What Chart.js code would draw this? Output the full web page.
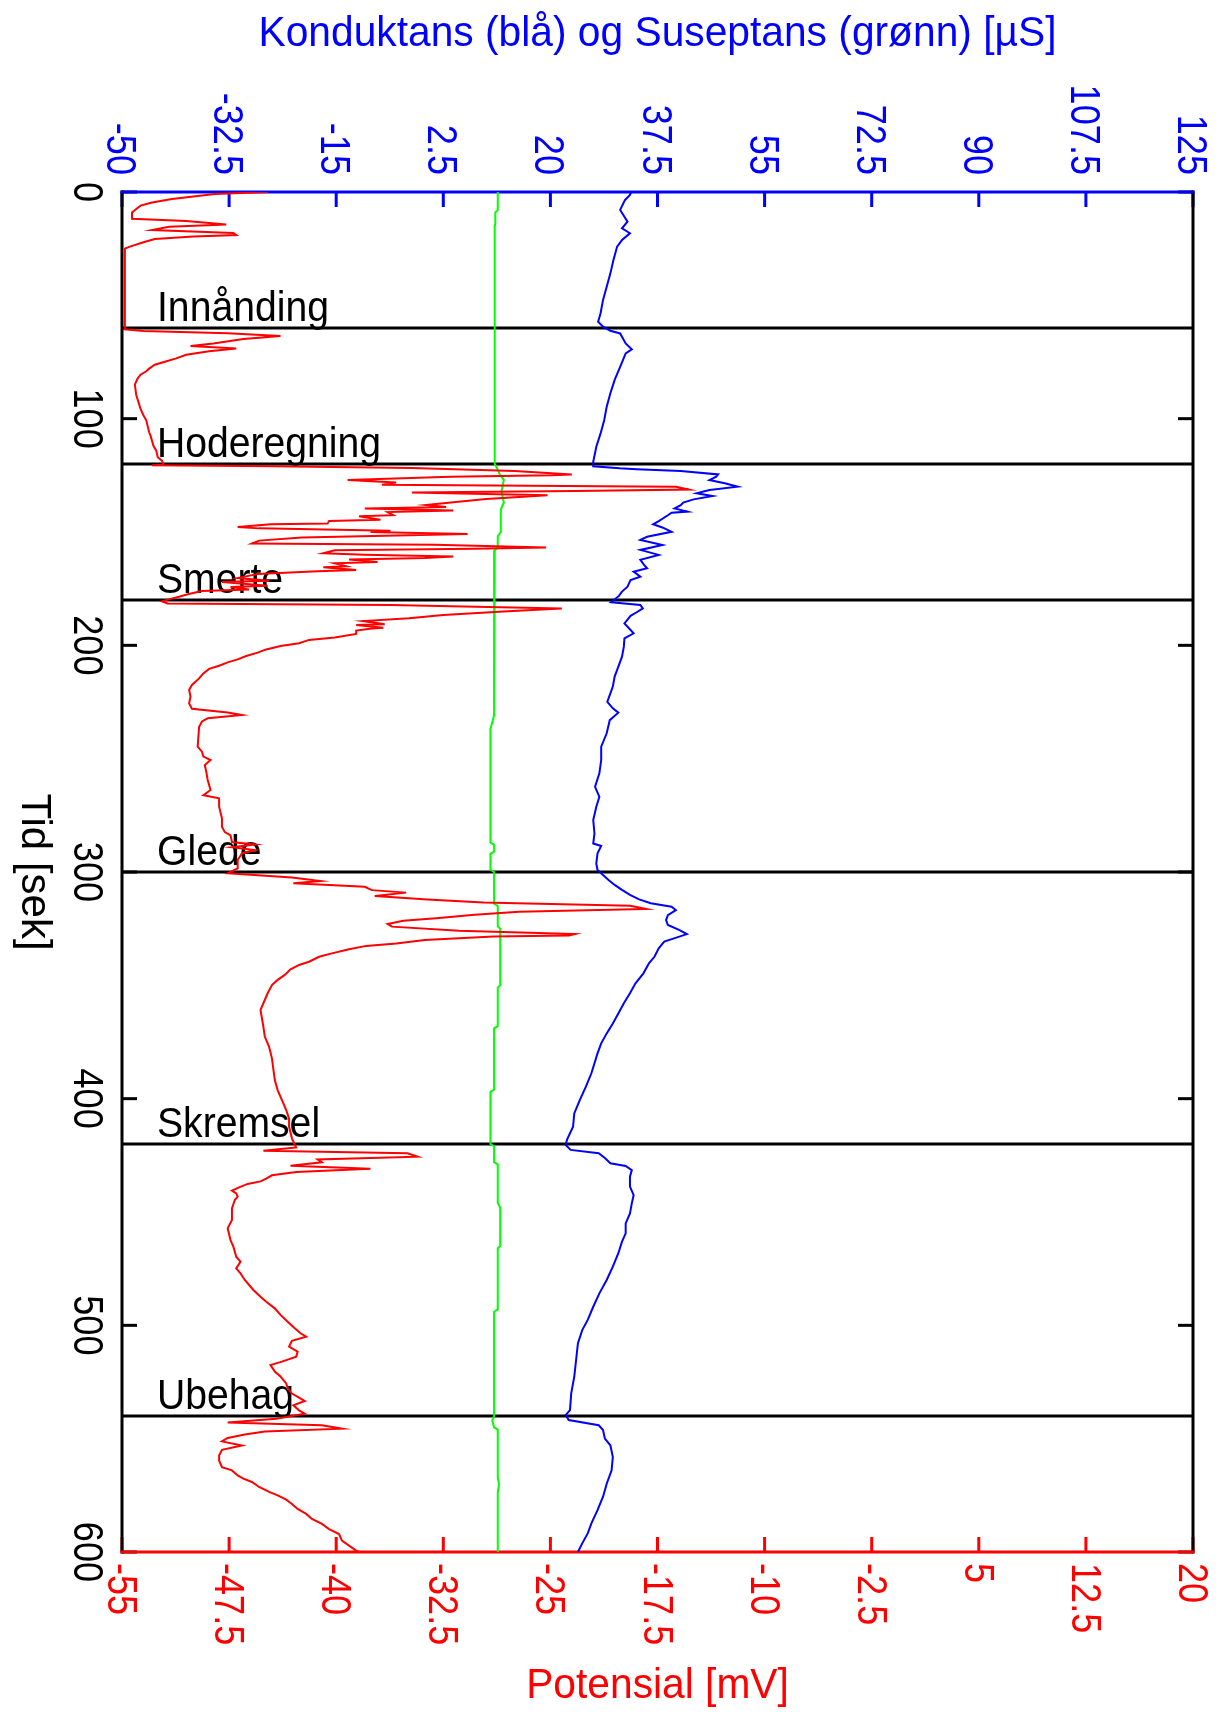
<!DOCTYPE html>
<html>
<head>
<meta charset="utf-8">
<title>Konduktans og potensial</title>
<script src="https://cdn.jsdelivr.net/npm/chart.js@4.4.1/dist/chart.umd.min.js"></script>
<style>
  html, body { margin: 0; padding: 0; background: #fff; }
  canvas { display: block; }
</style>
</head>
<body>
<canvas id="chart" width="1221" height="1712"></canvas>
<script>
// Skin potential (red, mV) over time [s]
const potTime = [0, 0.9, 3.1, 4.6, 6.0, 7.5, 9.0, 11.8, 12.8, 14.3, 15.3, 16.8, 18.1, 19.0, 19.6, 20.7, 22.2, 24.0, 25.0, 59.0,
  60.6, 61.3, 62.3, 63.5, 64.9, 66.8, 67.9, 69.0, 70.3, 71.8, 73.4, 74.9, 76.2, 77.9, 79.1, 80.6, 82.2, 85.0, 89.7, 91.6,
  95.7, 98.5, 100.7, 106.0, 107.5, 112.0, 114.1, 117.0, 118.5, 120.3, 120.6, 121.0, 121.8, 123.1, 124.6, 125.0, 125.6, 127.1, 128.2, 129.1,
  130.0, 131.3, 131.9, 132.6, 133.8, 135.4, 136.9, 138.1, 139.0, 139.6, 140.5, 141.2, 142.6, 143.1, 144.6, 145.1, 146.3, 146.6, 147.8, 148.4,
  149.4, 150.0, 150.9, 152.4, 153.8, 155.1, 155.6, 156.8, 157.4, 158.1, 159.4, 160.0, 160.8, 161.5, 162.1, 163.2, 163.8, 165.1, 165.6, 166.8,
  167.3, 168.5, 169.8, 170.3, 171.5, 172.1, 173.7, 174.3, 175.4, 176.0, 177.5, 178.6, 179.5, 180.6, 181.5, 182.2, 183.7, 185.1, 186.6, 188.1,
  189.3, 190.7, 191.0, 192.2, 192.6, 193.5, 195.0, 196.5, 197.6, 199.1, 200.3, 201.8, 203.2, 204.7, 206.2, 207.5, 209.0, 210.4, 212.4, 214.6,
  217.5, 219.7, 222.6, 225.6, 228.0, 229.6, 230.7, 232.2, 233.6, 235.9, 244.7, 246.9, 249.1, 250.6, 252.8, 255.7, 259.4, 263.8, 266.1, 267.5,
  271.2, 276.3, 280.0, 282.4, 283.8, 286.8, 287.9, 289.1, 290.3, 291.8, 294.7, 298.4, 300.6, 302.4, 304.0, 305.0, 306.5, 308.0, 309.1, 310.6,
  312.1, 313.5, 314.9, 316.3, 317.5, 318.9, 320.4, 321.5, 322.9, 324.1, 325.9, 327.4, 328.0, 328.5, 330.0, 331.5, 332.6, 334.1, 335.9, 337.4,
  339.6, 341.0, 342.9, 345.4, 347.6, 349.9, 353.5, 357.9, 360.9, 368.2, 372.6, 377.1, 382.2, 391.8, 396.2, 400.6, 405.0, 408.8, 412.4, 417.5,
  420.4, 421.5, 423.0, 424.1, 425.6, 426.8, 428.1, 429.6, 430.9, 432.4, 433.8, 435.3, 436.5, 437.6, 439.1, 440.6, 441.8, 443.2, 444.7, 448.4,
  453.5, 457.2, 462.4, 465.3, 469.7, 471.9, 474.9, 477.1, 480.0, 484.4, 487.4, 489.6, 492.5, 495.4, 498.4, 501.3, 503.5, 505.0, 506.8, 509.4,
  511.6, 513.8, 516.0, 517.5, 520.4, 522.6, 525.6, 527.8, 530.1, 531.9, 533.4, 535.3, 537.5, 539.0, 541.2, 542.9, 544.1, 545.6, 546.8, 548.2,
  549.7, 551.2, 553.0, 554.9, 557.4, 559.6, 562.6, 564.0, 566.2, 567.6, 569.1, 571.3, 573.5, 575.0, 576.9, 578.8, 581.0, 583.2, 585.4, 587.6,
  589.9, 592.1, 595.0, 597.2, 599.4, 600];
const potValue = [-44.8, -48.5, -51.5, -52.9, -53.7, -54.0, -54.3, -54.3, -50.5, -47.7, -51.7, -52.9, -47.2, -47.0, -50.0, -52.7, -53.5, -54.4, -54.8, -54.8,
  -54.8, -53.5, -47.6, -43.9, -46.5, -48.6, -50.2, -47.0, -48.9, -50.5, -51.2, -52.0, -52.7, -53.1, -53.3, -53.7, -53.9, -54.1, -54.0, -53.9,
  -53.7, -53.5, -53.3, -53.1, -53.0, -52.8, -52.6, -52.5, -52.2, -52.1, -52.9, -44.3, -34.7, -27.5, -23.5, -24.9, -32.0, -39.2, -35.8, -36.8,
  -16.2, -15.3, -23.3, -34.7, -25.2, -29.5, -31.8, -33.7, -32.3, -38.0, -31.8, -36.4, -36.0, -38.4, -36.9, -40.5, -40.6, -44.6, -46.9, -45.4,
  -36.2, -37.6, -30.8, -42.4, -45.4, -45.9, -33.1, -25.3, -30.3, -40.1, -40.9, -38.0, -31.8, -33.8, -39.1, -37.1, -40.1, -39.3, -40.9, -38.6,
  -41.3, -45.5, -46.5, -46.9, -44.7, -48.0, -44.8, -47.4, -46.1, -49.4, -50.4, -51.0, -51.6, -52.2, -51.8, -36.2, -24.2, -28.3, -32.5, -34.9,
  -38.1, -36.6, -38.6, -36.7, -37.5, -38.6, -38.6, -40.1, -41.9, -42.6, -43.9, -44.9, -45.5, -46.3, -46.9, -47.6, -48.2, -48.9, -49.3, -49.6,
  -50.1, -50.3, -50.2, -50.3, -50.1, -47.6, -46.6, -49.0, -49.4, -49.6, -49.7, -49.4, -49.3, -48.8, -49.2, -49.1, -49.0, -48.8, -49.3, -48.2,
  -48.2, -48.0, -48.0, -47.8, -47.4, -47.3, -45.7, -47.3, -45.7, -46.6, -46.9, -46.9, -47.6, -43.1, -41.1, -43.0, -38.0, -37.5, -35.1, -37.3,
  -33.6, -29.7, -19.4, -18.3, -27.2, -30.3, -33.0, -35.3, -36.4, -36.1, -31.4, -23.3, -23.7, -29.0, -33.8, -35.8, -37.9, -39.1, -40.3, -41.2,
  -41.9, -42.6, -43.2, -43.6, -44.1, -44.5, -44.8, -45.1, -45.3, -45.1, -45.0, -44.7, -44.5, -44.3, -44.1, -43.8, -43.5, -43.3, -43.3, -43.1,
  -42.9, -42.8, -45.1, -35.0, -34.3, -41.3, -41.0, -43.2, -37.6, -42.8, -44.5, -44.9, -45.3, -46.2, -46.8, -47.3, -47.0, -46.9, -47.1, -47.3,
  -47.3, -47.6, -47.4, -47.2, -47.0, -46.7, -47.0, -46.7, -46.4, -45.8, -45.3, -44.9, -44.3, -43.9, -43.4, -42.9, -42.5, -42.1, -43.1, -43.3,
  -42.7, -42.8, -43.8, -44.6, -44.3, -43.9, -43.5, -43.4, -43.1, -42.6, -42.2, -43.0, -42.6, -42.2, -44.2, -47.6, -41.0, -39.6, -45.0, -46.4,
  -47.6, -48.0, -46.6, -48.0, -48.2, -48.2, -48.0, -47.3, -46.9, -46.5, -45.9, -45.4, -44.7, -44.1, -43.5, -43.1, -42.7, -42.1, -41.7, -41.0,
  -40.5, -39.8, -39.6, -39.1, -38.6, -38.4];

// Conductance (blue, µS)
const condTime = [0, 1.3, 3.5, 7.9, 13.1, 16.0, 18.2, 21.2, 24.1, 30.0, 35.9, 41.8, 47.6, 53.5, 57.2, 59.4, 61.2, 62.4, 66.8, 69.4,
  71.2, 77.1, 82.9, 88.8, 94.7, 100.6, 106.5, 112.4, 119.0, 121.0, 121.9, 122.3, 123.1, 124.6, 125.6, 127.1, 128.5, 130.0, 131.5, 132.9,
  134.1, 135.6, 137.0, 138.2, 139.6, 141.0, 141.5, 142.6, 145.2, 146.6, 148.1, 149.9, 152.1, 153.5, 155.7, 157.9, 160.1, 162.3, 164.5, 166.0,
  167.5, 169.7, 171.2, 174.1, 176.3, 178.2, 181.0, 182.2, 183.7, 185.4, 187.0, 190.3, 194.7, 196.9, 200.6, 205.0, 209.4, 213.8, 218.2, 221.2,
  224.9, 227.8, 229.7, 233.0, 238.8, 244.7, 250.6, 256.5, 262.4, 266.8, 271.2, 277.1, 283.0, 287.4, 288.5, 291.8, 296.2, 299.1, 301.3, 303.5,
  305.7, 307.9, 310.1, 312.1, 313.8, 315.3, 316.8, 319.0, 321.2, 323.4, 325.6, 327.4, 329.3, 330.7, 333.7, 337.4, 340.3, 344.7, 349.1, 353.5,
  357.9, 362.4, 366.8, 371.2, 375.6, 380.0, 388.8, 394.7, 400.6, 406.5, 412.4, 418.2, 420.4, 422.6, 424.1, 426.2, 428.5, 429.7, 431.5, 434.4,
  438.8, 442.5, 446.2, 450.6, 455.0, 459.4, 463.1, 468.2, 474.1, 480.0, 485.9, 491.8, 497.6, 502.1, 507.9, 515.3, 522.6, 530.0, 537.4, 539.6,
  541.8, 544.1, 546.2, 550.0, 552.9, 558.1, 564.0, 569.9, 575.6, 581.5, 587.4, 591.8, 596.2, 600];
const condValue = [33.2, 33.0, 32.2, 31.4, 32.6, 31.7, 33.0, 31.7, 30.9, 30.3, 29.8, 29.2, 28.6, 28.2, 27.8, 28.6, 29.8, 31.4, 32.3, 33.3,
  32.3, 31.4, 30.5, 29.8, 29.2, 28.8, 28.2, 27.5, 27.0, 27.0, 31.3, 34.1, 41.3, 47.4, 47.1, 46.0, 48.5, 50.6, 46.0, 43.9,
  46.5, 43.4, 41.7, 41.3, 40.3, 42.4, 39.8, 39.2, 37.7, 36.8, 38.4, 39.8, 35.8, 34.7, 38.3, 34.7, 37.7, 34.7, 35.3, 35.8,
  33.6, 34.7, 33.1, 32.6, 31.7, 31.2, 29.9, 34.7, 35.1, 34.1, 33.1, 32.1, 33.6, 32.1, 32.0, 31.7, 31.1, 30.5, 30.2, 29.8,
  29.3, 30.2, 31.1, 29.7, 29.2, 28.3, 28.3, 28.0, 27.3, 28.0, 27.5, 27.0, 27.2, 27.0, 28.3, 27.7, 27.5, 27.7, 28.6, 29.5,
  30.5, 31.7, 33.0, 34.5, 36.4, 39.8, 40.5, 39.2, 38.9, 39.2, 41.1, 42.3, 40.2, 38.6, 37.7, 37.0, 36.1, 35.2, 33.9, 33.0,
  32.0, 31.1, 30.2, 29.2, 28.3, 27.7, 26.7, 25.8, 24.8, 23.9, 23.7, 22.7, 22.5, 23.3, 27.9, 28.9, 29.8, 32.3, 33.3, 33.0,
  33.0, 33.6, 33.3, 33.0, 32.3, 32.3, 31.7, 31.1, 30.2, 29.2, 28.0, 27.0, 26.1, 25.2, 24.5, 24.2, 23.9, 23.4, 23.2, 22.5,
  23.0, 27.9, 28.6, 28.9, 29.8, 30.2, 30.0, 29.2, 28.6, 27.7, 26.7, 26.1, 25.2, 24.5];

// Susceptance (green, µS)
const suscTime = [0, 8, 9, 14, 15, 120, 122, 125, 127, 132, 137, 140, 150, 152, 157, 158, 180, 231, 235, 237,
  287, 288, 291, 292, 299, 300, 314, 315, 324, 325, 350, 351, 368, 369, 396, 397, 420, 421, 428, 429,
  446, 448, 465, 466, 493, 494, 540, 542, 545, 546, 567, 570, 574, 600];
const suscValue = [11.4, 11.4, 11.0, 11.0, 10.9, 10.9, 11.3, 11.8, 12.4, 12.0, 12.4, 11.9, 11.9, 11.4, 11.4, 10.9, 10.8, 10.8, 10.4, 10.2,
  10.2, 10.8, 10.8, 10.2, 10.2, 10.8, 10.8, 11.4, 11.4, 11.8, 11.8, 11.4, 11.4, 10.8, 10.8, 10.2, 10.2, 10.8, 10.8, 11.4,
  11.4, 11.8, 11.8, 11.4, 11.4, 10.8, 10.8, 10.5, 10.8, 11.4, 11.4, 11.6, 11.4, 11.4];

// Stimulus markers
const eventTimes = [60, 120, 180, 300, 420, 540];
const eventNames = ['Innånding', 'Hoderegning', 'Smerte', 'Glede', 'Skremsel', 'Ubehag'];

// Axis ticks
const timeTicks = [0, 100, 200, 300, 400, 500, 600];
const condTicks = [-50, -32.5, -15, 2.5, 20, 37.5, 55, 72.5, 90, 107.5, 125];
const potTicks = [-55, -47.5, -40, -32.5, -25, -17.5, -10, -2.5, 5, 12.5, 20];

const RED = '#ff0000', BLUE = '#0000ff', GREEN = '#00ff00', BLACK = '#000000';
const FONT = '"Liberation Sans", Arial, sans-serif';

// text helper: size in px, stretch squeezes along the reading direction,
// rot = true turns the text a quarter turn clockwise
function drawText(ctx, text, x, y, size, stretch, rot, align, color) {
  ctx.save();
  ctx.translate(x, y);
  if (rot) ctx.rotate(Math.PI / 2);
  ctx.scale(stretch, 1);
  ctx.font = size + 'px ' + FONT;
  ctx.fillStyle = color;
  ctx.textAlign = align;
  ctx.textBaseline = 'alphabetic';
  ctx.fillText(text, 0, 0);
  ctx.restore();
}

function line(ctx, x1, y1, x2, y2, color, w) {
  ctx.beginPath();
  ctx.moveTo(x1, y1);
  ctx.lineTo(x2, y2);
  ctx.strokeStyle = color;
  ctx.lineWidth = w;
  ctx.stroke();
}

// axes box, inward ticks, rotated tick labels, marker lines + names
const framePlugin = {
  id: 'frame',
  beforeDatasetsDraw(chart) {
    const ctx = chart.ctx;
    const { left, right, top, bottom } = chart.chartArea;
    const xPot = chart.scales.x, xCond = chart.scales.x2, yT = chart.scales.y;
    const tl = 15;

    ctx.save();
    ctx.lineCap = 'butt';

    // stimulus lines and their names
    eventTimes.forEach((t, i) => {
      const py = yT.getPixelForValue(t);
      line(ctx, left, py, right, py, BLACK, 3);
      drawText(ctx, eventNames[i], left + 35, py - 7, 43, 0.91, false, 'left', BLACK);
    });

    // time axis (left) + mirrored ticks on the right
    timeTicks.forEach(t => {
      const py = yT.getPixelForValue(t);
      line(ctx, left, py, left + tl, py, BLACK, 3);
      line(ctx, right, py, right - tl, py, BLACK, 3);
      drawText(ctx, String(t), 74, py, 43, 0.84, true, 'center', BLACK);
    });

    // conductance axis (top)
    condTicks.forEach(v => {
      const px = xCond.getPixelForValue(v);
      line(ctx, px, top, px, top + tl, BLUE, 3);
      drawText(ctx, String(v), px - 15, top - 17, 43, 0.84, true, 'right', BLUE);
    });

    // potential axis (bottom)
    potTicks.forEach(v => {
      const px = xPot.getPixelForValue(v);
      line(ctx, px, bottom, px, bottom - tl, RED, 3);
      drawText(ctx, String(v), px - 14, bottom + 11, 43, 0.84, true, 'left', RED);
    });

    // frame
    line(ctx, left, top - 1.5, left, bottom + 1.5, BLACK, 3);
    line(ctx, right, top - 1.5, right, bottom + 1.5, BLACK, 3);
    line(ctx, left - 1.5, top, right + 1.5, top, BLUE, 3);
    line(ctx, left - 1.5, bottom, right + 1.5, bottom, RED, 3);

    // axis titles
    const cx = (left + right) / 2;
    drawText(ctx, 'Konduktans (blå) og Suseptans (grønn) [µS]', cx, 46, 42, 0.97, false, 'center', BLUE);
    drawText(ctx, 'Potensial [mV]', cx, 1698, 42, 0.97, false, 'center', RED);
    drawText(ctx, 'Tid [sek]', 22, yT.getPixelForValue(300), 42, 1.0, true, 'center', BLACK);

    ctx.restore();
  }
};

function series(times, values) {
  return times.map((t, i) => ({ x: values[i], y: t }));
}

new Chart(document.getElementById('chart'), {
  type: 'line',
  data: {
    datasets: [
      {
        label: 'Potensial',
        data: series(potTime, potValue),
        xAxisID: 'x', yAxisID: 'y',
        borderColor: RED, borderWidth: 2
      },
      {
        label: 'Konduktans',
        data: series(condTime, condValue),
        xAxisID: 'x2', yAxisID: 'y',
        borderColor: BLUE, borderWidth: 2
      },
      {
        label: 'Suseptans',
        data: series(suscTime, suscValue),
        xAxisID: 'x2', yAxisID: 'y',
        borderColor: GREEN, borderWidth: 2
      }
    ]
  },
  options: {
    indexAxis: 'y',
    responsive: false,
    devicePixelRatio: 1,
    animation: false,
    events: [],
    elements: {
      point: { radius: 0 },
      line: { tension: 0, fill: false }
    },
    layout: { padding: { left: 122, right: 28, top: 192, bottom: 160 } },
    plugins: { legend: { display: false }, tooltip: { enabled: false } },
    scales: {
      y: { type: 'linear', axis: 'y', min: 0, max: 600, reverse: true, display: false },
      x: { type: 'linear', axis: 'x', position: 'bottom', min: -55, max: 20, display: false },
      x2: { type: 'linear', axis: 'x', position: 'top', min: -50, max: 125, display: false }
    }
  },
  plugins: [framePlugin]
});
</script>
</body>
</html>
